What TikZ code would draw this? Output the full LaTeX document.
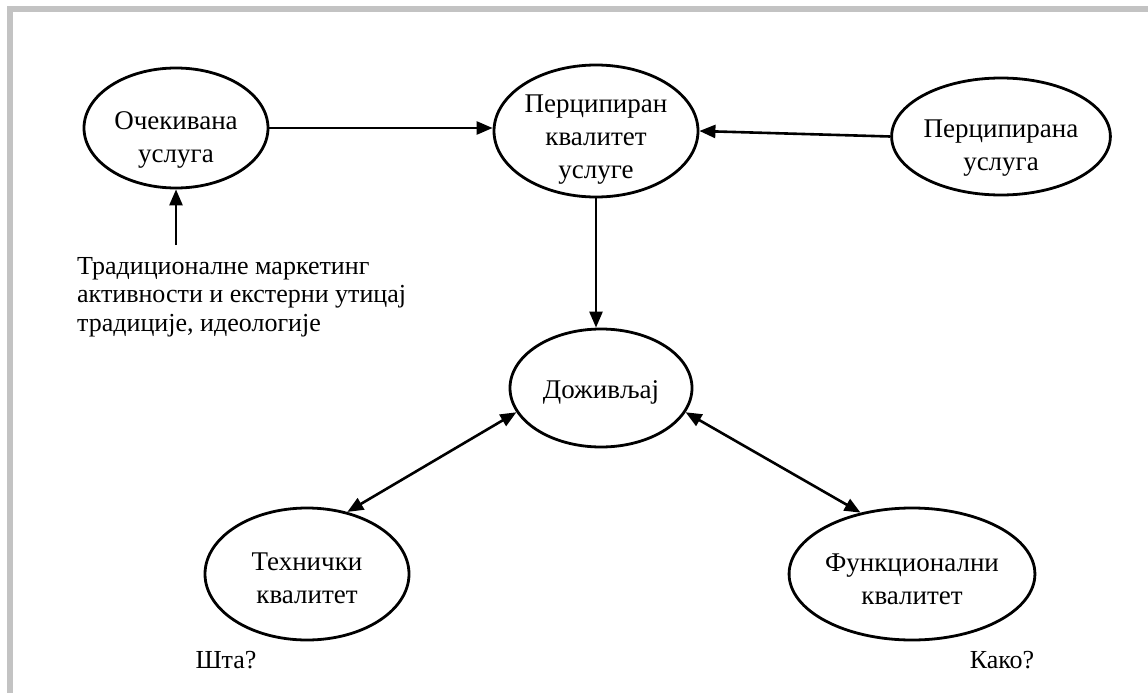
\documentclass[tikz,border=0pt]{standalone}
\usepackage{fontspec}
\setmainfont{Liberation Serif}
\usetikzlibrary{shapes.geometric,arrows.meta}
\definecolor{framegray}{RGB}{195,195,195}
\newcommand{\ovtext}[2]{\smash{\raisebox{-#1pt}{\begin{tabular}{@{}c@{}}#2\end{tabular}}}}
\tikzset{
  oval/.style={draw=black, line width=2.8pt, ellipse, inner sep=0pt,
    font=\fontsize{27}{33}\selectfont},
  conn/.style={line width=2.6pt, -{Triangle[length=16pt,width=13pt]}},
  dconn/.style={line width=2.6pt, {Triangle[length=16pt,width=13pt]}-{Triangle[length=16pt,width=13pt]}},
  lbl/.style={font=\fontsize{26}{28.5}\selectfont, inner sep=0pt}
}
\begin{document}
\begin{tikzpicture}[x=1pt,y=-1pt]
\useasboundingbox (0,0) rectangle (1148,693);
\fill[white] (0,0) rectangle (1148,693);
% frame
\fill[framegray] (7,6) rectangle (1148,12);
\fill[framegray] (7,6) rectangle (13,693);
% nodes
\node[oval, minimum width=184pt, minimum height=120pt] (ocek) at (176,128) {\ovtext{18}{Очекивана\\услуга}};
\node[oval, minimum width=204pt, minimum height=132pt] (perc) at (596,131) {\ovtext{14}{Перципиран\\квалитет\\услуге}};
\node[oval, minimum width=184pt, minimum height=117pt] (percu) at (1001,136.5) {\ovtext{17}{Перципирана\\услуга}};
\node[oval, minimum width=182pt, minimum height=118pt] (dozi) at (601,388) {\ovtext{10}{Доживљај}};
\node[oval, minimum width=204pt, minimum height=132pt] (tech) at (307,574) {\ovtext{13}{Технички\\квалитет}};
\node[oval, minimum width=202pt, minimum height=132pt] (funk) at (912,574) {\ovtext{14}{Функционални\\квалитет}};
% texts
\node[lbl, align=left, anchor=north west] (trad) at (77,257) {Традиционалне маркетинг\\активности и екстерни утицај\\традиције, идеологије};
\node[lbl] (sta) at (226,660) {Шта?};
\node[lbl] (kako) at (1002,660) {Како?};
\coordinate (tradtop) at (176,245);
% connectors
\draw[conn] (tradtop) -- (ocek.south);
\draw[conn] (ocek.east) -- (ocek.east -| perc.west);
\draw[conn] (percu.west) -- (perc.east);
\draw[conn] (perc.south) -- (perc.south |- dozi.north);
\draw[dconn] (dozi.196) -- (tech.57);
\draw[dconn] (dozi.344) -- (funk.130);
\end{tikzpicture}
\end{document}
